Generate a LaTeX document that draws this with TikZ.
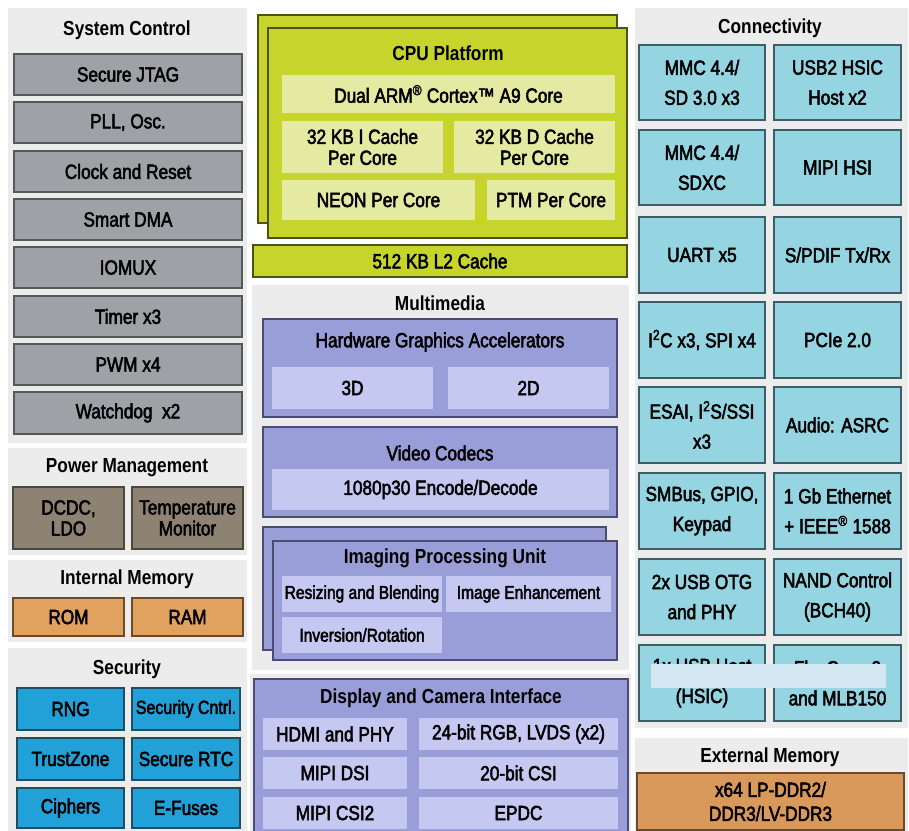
\documentclass[tikz,border=0pt]{standalone}
\usepackage{fontspec}
\setmainfont{Liberation Sans}[FakeStretch=0.85]
\newfontfamily\labfont{Liberation Sans}[FakeStretch=0.84,FakeBold=2.5]
\definecolor{panelgray}{HTML}{ECECEC}
\definecolor{sysfill}{HTML}{9EA2A6}
\definecolor{sysbd}{HTML}{55595C}
\definecolor{pwrfill}{HTML}{8E8373}
\definecolor{pwrbd}{HTML}{4D463D}
\definecolor{memfill}{HTML}{E2A25F}
\definecolor{membd}{HTML}{6B4A2A}
\definecolor{secfill}{HTML}{22A0D8}
\definecolor{secbd}{HTML}{1C4E66}
\definecolor{confill}{HTML}{94D5E1}
\definecolor{conbd}{HTML}{3C5E66}
\definecolor{cpufill}{HTML}{C6D42C}
\definecolor{cpubd}{HTML}{4D5212}
\definecolor{cpucell}{HTML}{E4EAA2}
\definecolor{mmfill}{HTML}{9A9ED8}
\definecolor{mmbd}{HTML}{4A4C73}
\definecolor{mmcell}{HTML}{C5C8F0}
\definecolor{extfill}{HTML}{D9995A}
\definecolor{overlay}{HTML}{D3E8F2}
\newcommand\lab{\labfont\fontsize{20.5}{21}\selectfont}
\newcommand\conlab{\labfont\fontsize{20.5}{30}\selectfont}
\newcommand\extlab{\labfont\fontsize{20.5}{24}\selectfont}
\newcommand\smlab{\labfont\fontsize{18.5}{20}\selectfont}
\newcommand\ttl{\bfseries\fontsize{20.3}{22}\selectfont}
\newcommand\bx[7]{%
  \pgfmathsetmacro\bw{#4-#2}\pgfmathsetmacro\bh{#5-#3}%
  \node[#6, minimum width=\bw pt, minimum height=\bh pt] (#1) at ({(#2+#4)/2},{(#3+#5)/2}) {#7};}
\tikzset{
  base/.style={rectangle, inner sep=0pt, outer sep=0pt, align=center, font=\lab, text=black},
  panel/.style={base, fill=panelgray},
  sysbox/.style={base, fill=sysfill, draw=sysbd, line width=1.2pt},
  pwrbox/.style={base, fill=pwrfill, draw=pwrbd, line width=1.2pt},
  membox/.style={base, fill=memfill, draw=membd, line width=1.2pt},
  secbox/.style={base, fill=secfill, draw=secbd, line width=1.2pt},
  conbox/.style={base, fill=confill, draw=conbd, line width=1.2pt, font=\conlab},
  cpubox/.style={base, fill=cpufill, draw=cpubd, line width=1.2pt},
  cpucellbox/.style={base, fill=cpucell},
  mmbox/.style={base, fill=mmfill, draw=mmbd, line width=1.2pt},
  mmcellbox/.style={base, fill=mmcell},
  extbox/.style={base, fill=extfill, draw=membd, line width=1.2pt, font=\extlab},
  hidebar/.style={base, fill=overlay},
  title/.style={inner sep=0pt, font=\ttl, text=black},
}
\begin{document}
\begin{tikzpicture}[x=1pt,y=-1pt]
\useasboundingbox (0,0) rectangle (909,830);
\clip (0,0) rectangle (909,830);
\fill[white] (0,0) rectangle (909,830);
% panels
\bx{pSys}{8}{8}{247}{443}{panel}{}
\bx{pPwr}{8}{448}{247}{555}{panel}{}
\bx{pMem}{8}{560}{247}{642}{panel}{}
\bx{pSec}{8}{648}{247}{834}{panel}{}
\bx{pMM}{252}{285}{629}{670}{panel}{}
\bx{pDisp}{250}{674}{631}{834}{panel}{}
\bx{pCon}{635}{8}{908}{728}{panel}{}
\bx{pExt}{635}{738}{908}{834}{panel}{}
% System control
\node[title] (tSys) at (127,30) {System Control};
\bx{jtag}{14}{54}{242}{95}{sysbox}{Secure JTAG}
\bx{pll}{14}{102}{242}{143}{sysbox}{PLL, Osc.}
\bx{clk}{14}{151}{242}{192}{sysbox}{Clock and Reset}
\bx{dma}{14}{199}{242}{240}{sysbox}{Smart DMA}
\bx{iomux}{14}{247}{242}{288}{sysbox}{IOMUX}
\bx{timer}{14}{296}{242}{337}{sysbox}{Timer x3}
\bx{pwm}{14}{344}{242}{385}{sysbox}{PWM x4}
\bx{wdog}{14}{392}{242}{434}{sysbox}{Watchdog~ x2}
% Power
\node[title] (tPwr) at (127,468) {Power Management};
\bx{dcdc}{13}{487}{124}{549}{pwrbox}{DCDC,\\LDO}
\bx{temp}{132}{487}{243}{549}{pwrbox}{Temperature\\Monitor}
% Internal memory
\node[title] (tMem) at (127,579) {Internal Memory};
\bx{rom}{13}{598}{124}{636}{membox}{ROM}
\bx{ram}{132}{598}{243}{636}{membox}{RAM}
% Security
\node[title] (tSec) at (127,669) {Security};
\bx{rng}{17}{688}{124}{730}{secbox}{RNG}
\bx{scntrl}{132}{688}{240}{730}{secbox, font=\labfont\fontsize{19}{21}\selectfont}{Security Cntrl.}
\bx{tz}{17}{738}{124}{780}{secbox}{TrustZone}
\bx{rtc}{132}{738}{240}{780}{secbox}{Secure RTC}
\bx{ciph}{17}{788}{124}{828}{secbox}{Ciphers}
\bx{fuse}{132}{788}{240}{828}{secbox}{E-Fuses}
% CPU
\bx{cpuback}{258}{15}{617}{223}{cpubox}{}
\bx{cpu}{268}{28}{627}{238}{cpubox}{}
\node[title] (tCpu) at (448,53) {CPU Platform};
\bx{arm}{282}{75}{615}{113}{cpucellbox}{Dual ARM\textsuperscript{®} Cortex™ A9 Core}
\bx{icache}{282}{121}{443}{173}{cpucellbox}{32 KB I Cache\\Per Core}
\bx{dcache}{454}{121}{615}{173}{cpucellbox}{32 KB D Cache\\Per Core}
\bx{neon}{282}{180}{475}{220}{cpucellbox}{NEON Per Core}
\bx{ptm}{487}{180}{615}{220}{cpucellbox}{PTM Per Core}
\bx{l2}{253}{245}{627}{277}{cpubox}{512 KB L2 Cache}
% Multimedia
\node[title] (tMM) at (440,303) {Multimedia};
\bx{hga}{263}{319}{617}{417}{mmbox}{}
\node[base] (tHga) at (440,342) {Hardware Graphics Accelerators};
\bx{g3d}{272}{367}{433}{409}{mmcellbox}{3D}
\bx{g2d}{448}{367}{609}{409}{mmcellbox}{2D}
\bx{vc}{263}{427}{617}{517}{mmbox}{}
\node[base] (tVc) at (440,453) {Video Codecs};
\bx{enc}{272}{469}{609}{510}{mmcellbox}{1080p30 Encode/Decode}
\bx{ipuback}{263}{527}{606}{650}{mmbox}{}
\bx{ipu}{273}{541}{617}{660}{mmbox}{}
\node[title] (tIpu) at (445,558) {Imaging Processing Unit};
\bx{resz}{282}{576}{442}{612}{mmcellbox, font=\smlab}{Resizing and Blending}
\bx{enh}{446}{576}{611}{612}{mmcellbox, font=\smlab}{Image Enhancement}
\bx{inv}{282}{617}{442}{653}{mmcellbox, font=\smlab}{Inversion/Rotation}
% Display
\bx{disp}{254}{679}{628}{840}{mmbox}{}
\node[title] (tDisp) at (441,698) {Display and Camera Interface};
\bx{hdmi}{263}{718}{407}{750}{mmcellbox}{HDMI and PHY}
\bx{rgb}{419}{718}{618}{750}{mmcellbox}{24-bit RGB, LVDS (x2)}
\bx{dsi}{263}{757}{407}{789}{mmcellbox}{MIPI DSI}
\bx{csi}{419}{757}{618}{789}{mmcellbox}{20-bit CSI}
\bx{csitwo}{263}{797}{407}{829}{mmcellbox}{MIPI CSI2}
\bx{epdc}{419}{797}{618}{829}{mmcellbox}{EPDC}
% Connectivity
\node[title] (tCon) at (770,28) {Connectivity};
\bx{mmca}{639}{45}{765}{120}{conbox}{MMC 4.4/\\SD 3.0 x3}
\bx{usbh}{774}{45}{901}{120}{conbox}{USB2 HSIC\\Host x2}
\bx{mmcb}{639}{130}{765}{205}{conbox}{MMC 4.4/\\SDXC}
\bx{hsi}{774}{130}{901}{205}{conbox}{MIPI HSI}
\bx{uart}{639}{217}{765}{293}{conbox}{UART x5}
\bx{spdif}{774}{217}{901}{293}{conbox}{S/PDIF Tx/Rx}
\bx{i2c}{639}{302}{765}{378}{conbox}{I\textsuperscript{2}C x3, SPI x4}
\bx{pcie}{774}{302}{901}{378}{conbox}{PCIe 2.0}
\bx{esai}{639}{387}{765}{463}{conbox}{ESAI, I\textsuperscript{2}S/SSI\\x3}
\bx{asrc}{774}{387}{901}{463}{conbox}{Audio: ASRC}
\bx{smb}{639}{473}{765}{549}{conbox}{SMBus, GPIO,\\Keypad}
\bx{eth}{774}{473}{901}{549}{conbox}{1 Gb Ethernet\\+ IEEE\textsuperscript{®} 1588}
\bx{otg}{639}{559}{765}{635}{conbox}{2x USB OTG\\and PHY}
\bx{nand}{774}{559}{901}{635}{conbox}{NAND Control\\(BCH40)}
\bx{usbhost}{639}{645}{765}{721}{conbox}{1x USB Host\\(HSIC)}
\bx{flex}{774}{645}{901}{721}{conbox}{FlexCan x2\\and MLB150}
\bx{cover}{651}{664}{886}{688}{hidebar}{}
% External memory
\node[title] (tExt) at (770,757) {External Memory};
\bx{ddr}{637}{773}{904}{830}{extbox}{x64 LP-DDR2/\\DDR3/LV-DDR3}
\end{tikzpicture}
\end{document}
